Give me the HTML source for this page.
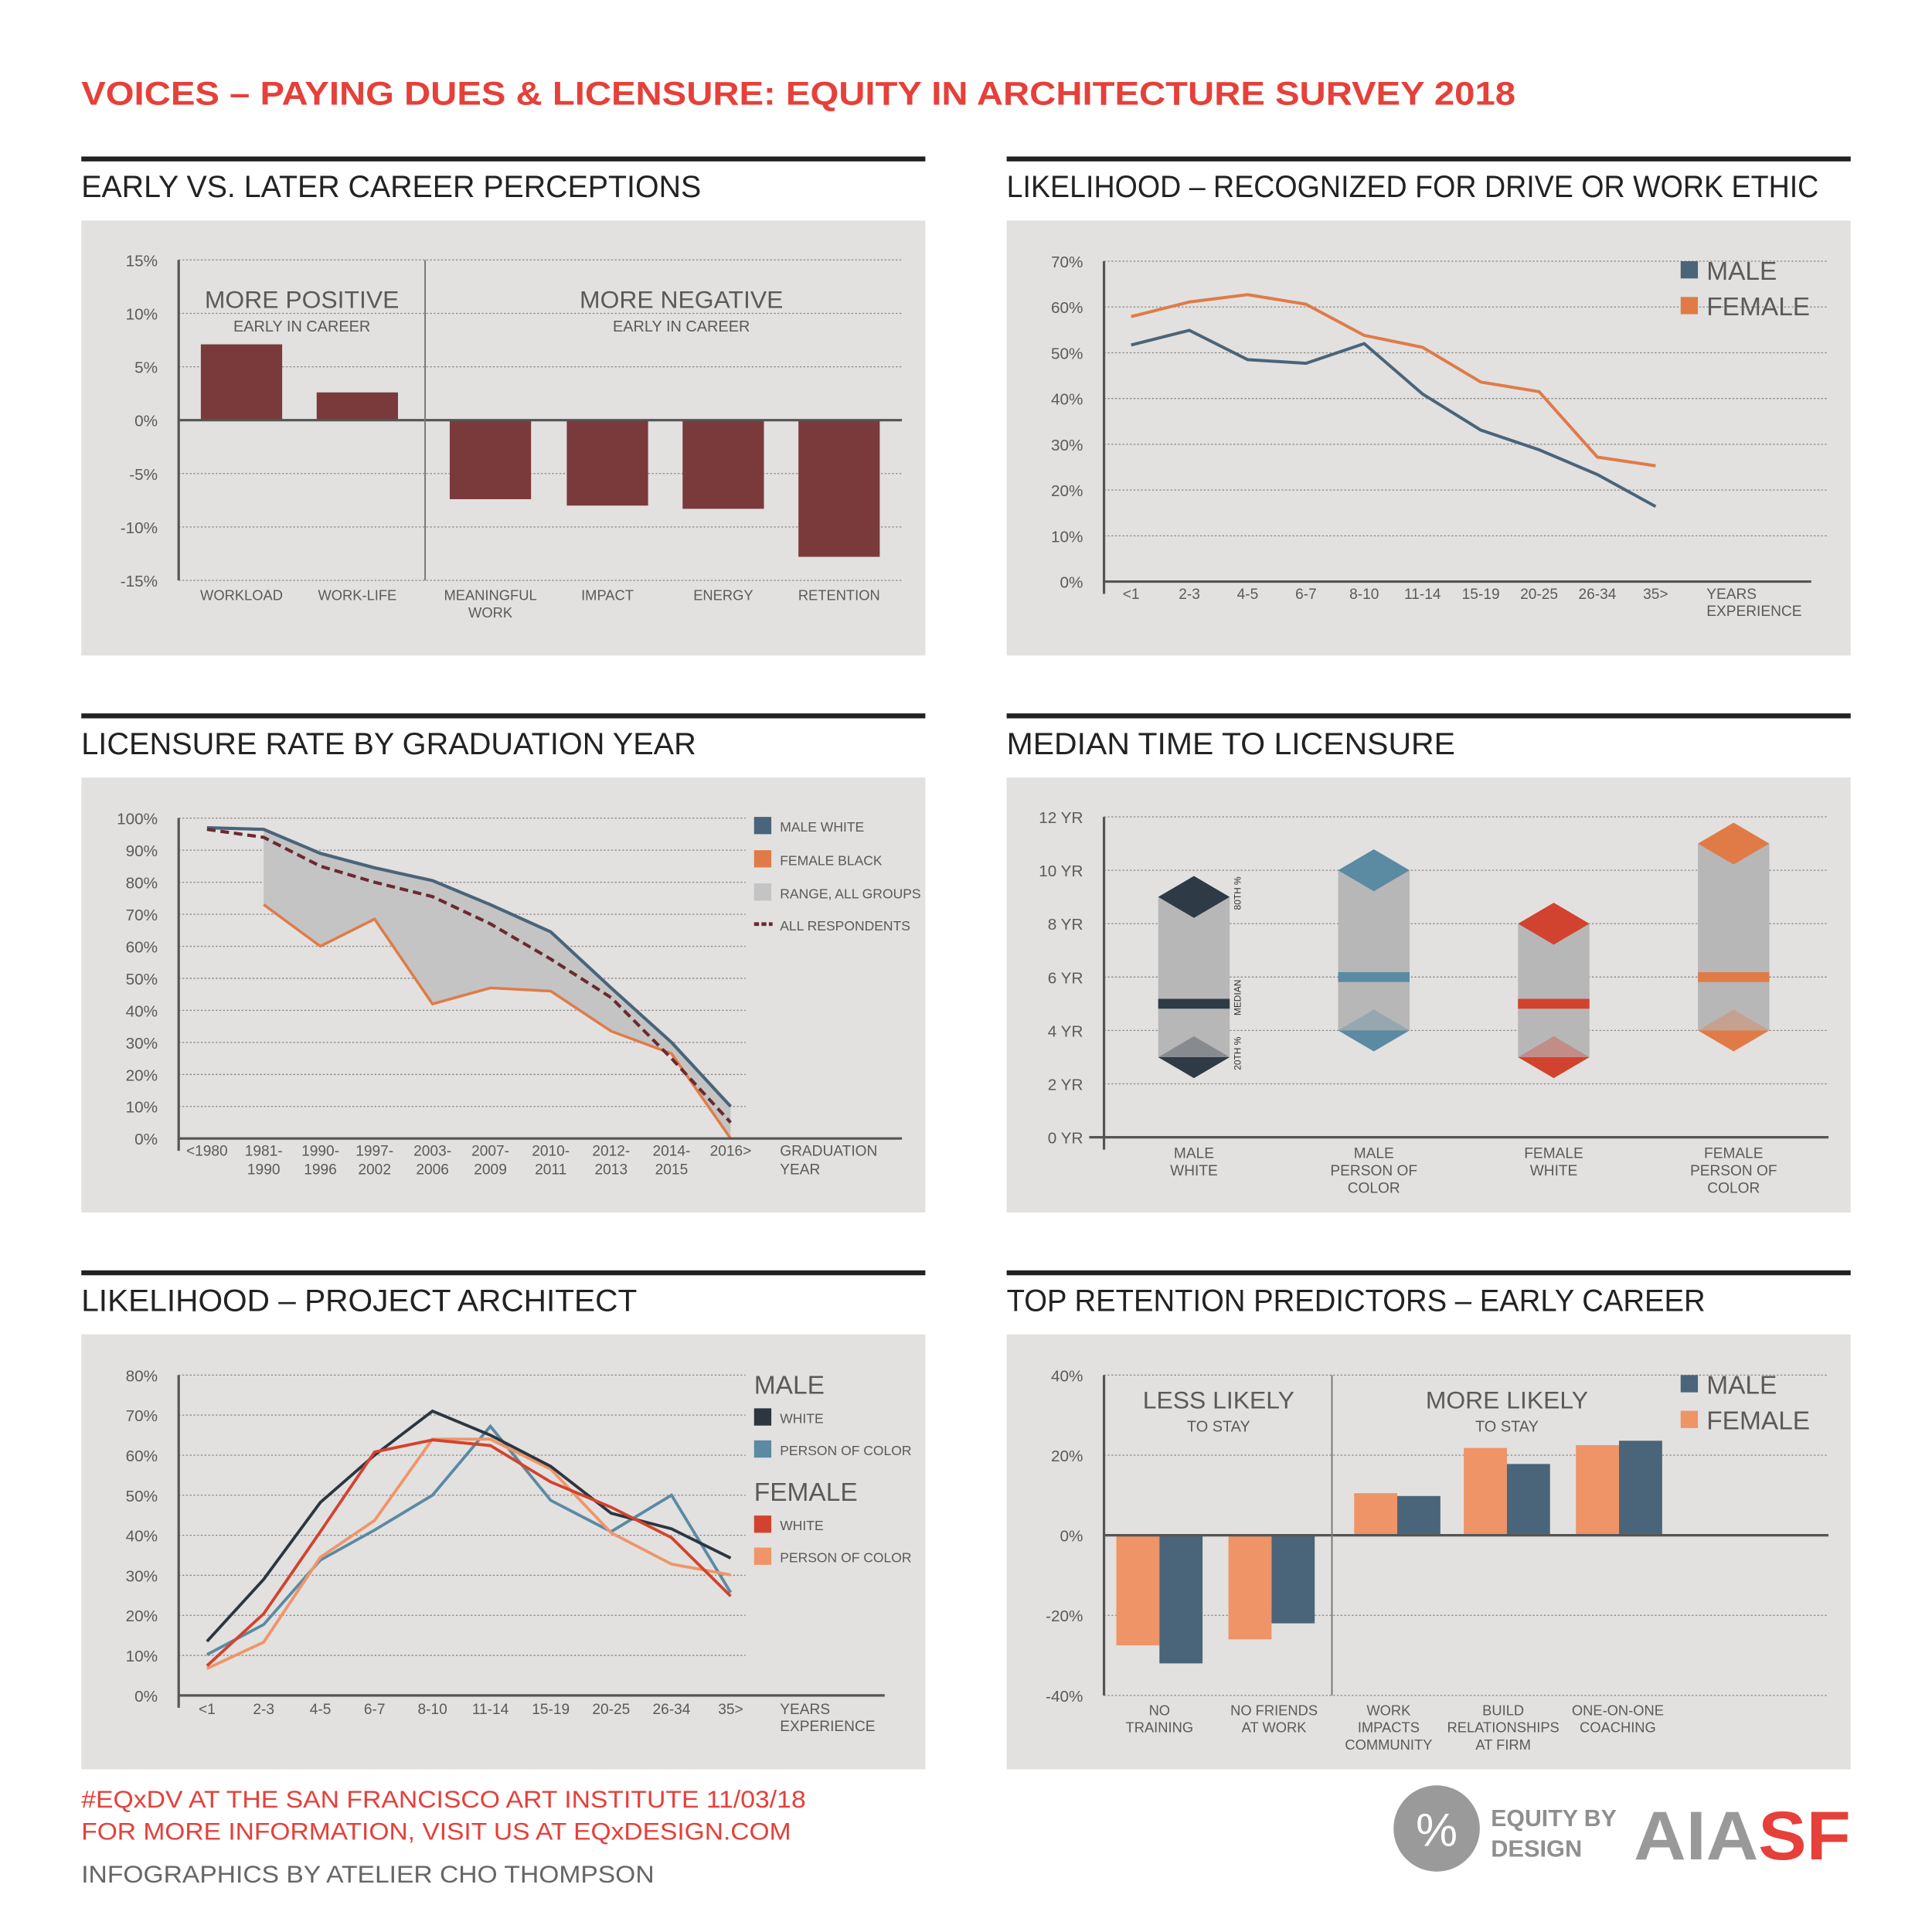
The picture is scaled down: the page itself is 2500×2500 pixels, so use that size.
<!DOCTYPE html>
<html><head><meta charset="utf-8"><style>
html,body{margin:0;padding:0;background:#fff}
svg{display:block}
text{font-family:"Liberation Sans",sans-serif}
</style></head><body>
<svg id="s" width="2500" height="2500" viewBox="0 0 1568 1568" xmlns="http://www.w3.org/2000/svg">
<rect width="1568" height="1568" fill="#fff"/>
<text x="66" y="85" font-size="27" font-weight="bold" fill="#e5403a" textLength="1164" lengthAdjust="spacingAndGlyphs">VOICES – PAYING DUES &amp; LICENSURE: EQUITY IN ARCHITECTURE SURVEY 2018</text>
<g id="frames"></g>
<g id="c1"></g><g id="c2"></g><g id="c3"></g><g id="c4"></g><g id="c5"></g><g id="c6"></g>
<text x="66" y="1467" font-size="20" fill="#e5403a" textLength="588" lengthAdjust="spacingAndGlyphs">#EQxDV AT THE SAN FRANCISCO ART INSTITUTE 11/03/18</text>
<text x="66" y="1493" font-size="20" fill="#e5403a" textLength="576" lengthAdjust="spacingAndGlyphs">FOR MORE INFORMATION, VISIT US AT EQxDESIGN.COM</text>
<text x="66" y="1528" font-size="20" fill="#666" textLength="465" lengthAdjust="spacingAndGlyphs">INFOGRAPHICS BY ATELIER CHO THOMPSON</text>
<g>
<circle cx="1166" cy="1484" r="35" fill="#9a9a9a"/>
<text x="1166" y="1498" font-size="38" fill="#fff" text-anchor="middle">%</text>
<text x="1210" y="1482" font-size="19" font-weight="bold" fill="#8f8f8f" textLength="102" lengthAdjust="spacingAndGlyphs">EQUITY BY</text>
<text x="1210" y="1507" font-size="19" font-weight="bold" fill="#8f8f8f" textLength="74" lengthAdjust="spacingAndGlyphs">DESIGN</text>
</g>
<text x="1326" y="1509" font-size="56" font-weight="bold" textLength="176" lengthAdjust="spacingAndGlyphs"><tspan fill="#999">AIA</tspan><tspan fill="#e5403a">SF</tspan></text>
</svg>
<script>
const NS="http://www.w3.org/2000/svg";
function mk(parent,tag,attrs,txt){const e=document.createElementNS(NS,tag);for(const k in attrs)e.setAttribute(k,attrs[k]);if(txt!==undefined)e.textContent=txt;parent.appendChild(e);return e;}
const G=id=>document.getElementById(id);
const AX="#555", LBL="#5a5a5a";

// ---- frames ----
const frameTitles=["EARLY VS. LATER CAREER PERCEPTIONS","LIKELIHOOD – RECOGNIZED FOR DRIVE OR WORK ETHIC","LICENSURE RATE BY GRADUATION YEAR","MEDIAN TIME TO LICENSURE","LIKELIHOOD – PROJECT ARCHITECT","TOP RETENTION PREDICTORS – EARLY CAREER"];
const frameLens=[503,659,499,364,451,567];
const fr=G("frames");
for(let i=0;i<6;i++){
  const x=i%2?817:66, y=129+Math.floor(i/2)*452;
  let r=mk(fr,"rect",{x:x,y:y-2,width:685,height:4,fill:"#222"});
  
  
  let t=mk(fr,"text",{x:x,y:y+31,"font-size":25,fill:"#222",textLength:frameLens[i],lengthAdjust:"spacingAndGlyphs"},frameTitles[i]);
  
  
  let p=mk(fr,"rect",{x:x,y:y+50,width:685,height:353,fill:"#e2e1df"});
  
  
}
function grid(g,x1,x2,y){mk(g,"line",{x1:x1,x2:x2,y1:y,y2:y,stroke:"#888","stroke-width":0.8,"stroke-dasharray":"1.5 1.5"});}
function txt(g,x,y,s,size,anchor,name,fill){const t=mk(g,"text",{x:x,y:y,"font-size":size||12,fill:fill||LBL,"text-anchor":anchor||"middle"},s);return t;}
</script>

<script>
// ---- Chart 1: early vs later career ----
const c1Cats=["WORKLOAD","WORK-LIFE","MEANINGFUL|WORK","IMPACT","ENERGY","RETENTION"];
const c1Vals=[7.1,2.6,-7.4,-8.0,-8.3,-12.8];
const c1Ticks=[15,10,5,0,-5,-10,-15];
(function(){
  const g=G("c1");const y=v=>341-v*8.667;const X0=145,X1=732;
  const cx=[196,290,398,493,587,681];
  c1Ticks.forEach(t=>{if(t!==0)grid(g,X0,X1,y(t));txt(g,128,y(t)+5,t+"%",13,"end","y-tick");});
  c1Vals.forEach((v,i)=>{const b=mk(g,"rect",{x:cx[i]-33,y:Math.min(y(v),y(0)),width:66,height:Math.abs(y(v)-y(0)),fill:"#7a3a3c"});
    
    
    c1Cats[i].split("|").forEach((s,j)=>txt(g,cx[i],487+j*14,s,11.5,"middle","x-tick"));});
  mk(g,"line",{x1:X0,x2:X1,y1:y(0),y2:y(0),stroke:"#555","stroke-width":2});
  mk(g,"line",{x1:X0,x2:X0,y1:211,y2:471,stroke:AX,"stroke-width":2});
  mk(g,"line",{x1:345,x2:345,y1:211,y2:471,stroke:"#777","stroke-width":1.2});
  txt(g,245,250,"MORE POSITIVE",20,"middle","positive-header");
  txt(g,245,269,"EARLY IN CAREER",12.5,"middle","positive-subheader");
  txt(g,553,250,"MORE NEGATIVE",20,"middle","negative-header");
  txt(g,553,269,"EARLY IN CAREER",12.5,"middle","negative-subheader");
})();
</script>

<script>
// ---- Chart 2: recognized for drive ----
const c2Cats=["<1","2-3","4-5","6-7","8-10","11-14","15-19","20-25","26-34","35>"];
const c2Male=[51.7,54.9,48.5,47.7,52,41,33.1,28.8,23.4,16.4];
const c2Female=[57.9,61.1,62.7,60.6,53.8,51.2,43.6,41.5,27.2,25.3];
const c2Ticks=[0,10,20,30,40,50,60,70];
(function(){
  const g=G("c2");const y=v=>472-v*3.714;const x=i=>918+i*47.3;
  c2Ticks.forEach(t=>{if(t)grid(g,896,1484,y(t));txt(g,879,y(t)+5,t+"%",13,"end","y-tick");});
  c2Cats.forEach((c,i)=>txt(g,x(i),486,c,12,"middle","x-tick"));
  txt(g,1385,486,"YEARS",12,"start","x-axis-title");txt(g,1385,500,"EXPERIENCE",12,"start","x-axis-title");
  [[c2Male,"#4a6479","line-male"],[c2Female,"#e07b47","line-female"]].forEach(([d,c,n])=>{
    const l=mk(g,"polyline",{points:d.map((v,i)=>x(i)+","+y(v)).join(" "),fill:"none",stroke:c,"stroke-width":2.5});
    
    });
  mk(g,"line",{x1:896,x2:1470,y1:472,y2:472,stroke:"#555","stroke-width":2});
  mk(g,"line",{x1:896,x2:896,y1:212,y2:482,stroke:AX,"stroke-width":2});
  mk(g,"rect",{x:1364,y:212,width:14,height:14,fill:"#4a6479"});
  txt(g,1385,227,"MALE",21,"start","legend-male");
  mk(g,"rect",{x:1364,y:241,width:14,height:14,fill:"#e07b47"});
  txt(g,1385,256,"FEMALE",21,"start","legend-female");
})();
</script>

<script>
// ---- Chart 3: licensure rate by graduation year ----
const c3Cats=["<1980|","1981-|1990","1990-|1996","1997-|2002","2003-|2006","2007-|2009","2010-|2011","2012-|2013","2014-|2015","2016>|"];
const c3MaleWhite=[97,96.5,89,84.5,80.5,73,64.5,47,30,10];
const c3FemaleBlack=[null,73,60,68.5,42,47,46,33.5,26.5,0];
const c3All=[96.5,94,85,80,75.5,67,56,44,25,5];
const c3Ticks=[0,10,20,30,40,50,60,70,80,90,100];
(function(){
  const g=G("c3");const y=v=>924-v*2.6;const xs=[168,214,260,304,351,398,447,496,545,593];const x=i=>xs[i];
  c3Ticks.forEach(t=>{if(t)grid(g,145,605,y(t));txt(g,128,y(t)+5,t+"%",13,"end","y-tick");});
  c3Cats.forEach((c,i)=>c.split("|").forEach((s,j)=>txt(g,x(i),938+j*15,s,12,"middle","x-tick")));
  txt(g,633,938,"GRADUATION",12,"start","x-axis-title");txt(g,633,953,"YEAR",12,"start","x-axis-title");
  let pts=[];for(let i=1;i<10;i++)pts.push(x(i)+","+y(c3MaleWhite[i]));
  for(let i=9;i>=1;i--)pts.push(x(i)+","+y(c3FemaleBlack[i]));
  const r=mk(g,"polygon",{points:pts.join(" "),fill:"#c4c4c4"});
  
  
  const fb=mk(g,"polyline",{points:c3FemaleBlack.map((v,i)=>v===null?"":x(i)+","+y(v)).join(" ").trim(),fill:"none",stroke:"#e07b47","stroke-width":2.2});
  
  
  const mw=mk(g,"polyline",{points:c3MaleWhite.map((v,i)=>x(i)+","+y(v)).join(" "),fill:"none",stroke:"#4a6479","stroke-width":2.6});
  
  
  const al=mk(g,"polyline",{points:c3All.map((v,i)=>x(i)+","+y(v)).join(" "),fill:"none",stroke:"#6b2a30","stroke-width":2.6,"stroke-dasharray":"7 4"});
  
  
  mk(g,"line",{x1:145,x2:732,y1:924,y2:924,stroke:"#555","stroke-width":2});
  mk(g,"line",{x1:145,x2:145,y1:664,y2:934,stroke:AX,"stroke-width":2});
  const leg=[["#4a6479","MALE WHITE"],["#e07b47","FEMALE BLACK"],["#c4c4c4","RANGE, ALL GROUPS"]];
  leg.forEach(([c,s],i)=>{mk(g,"rect",{x:612,y:663+i*27,width:14,height:14,fill:c});txt(g,633,675+i*27,s,11,"start","legend-entry");});
  mk(g,"line",{x1:612,x2:627,y1:750,y2:750,stroke:"#6b2a30","stroke-width":3,"stroke-dasharray":"4 2"});
  txt(g,633,755,"ALL RESPONDENTS",11,"start","legend-entry");
})();
</script>

<script>
// ---- Chart 4: median time to licensure ----
const c4Cats=["MALE|WHITE","MALE|PERSON OF|COLOR","FEMALE|WHITE","FEMALE|PERSON OF|COLOR"];
const c4P20=[3,4,3,4];
const c4Median=[5,6,5,6];
const c4P80=[9,10,8,11];
const c4Colors=["#2e3a45","#5b8aa3","#d2432f","#e07b47"];
const c4Ticks=[0,2,4,6,8,10,12];
(function(){
  const g=G("c4");const y=v=>923-v*21.67;const xs=[969,1115,1261,1407];
  c4Ticks.forEach(t=>{if(t)grid(g,896,1484,y(t));txt(g,879,y(t)+5,t+" YR",13,"end","y-tick");});
  c4Cats.forEach((c,i)=>{const cx=xs[i],c0=c4Colors[i];
    c.split("|").forEach((s,j)=>txt(g,cx,940+j*14,s,12,"middle","x-tick"));
    const b=mk(g,"rect",{x:cx-29,y:y(c4P80[i]),width:58,height:y(c4P20[i])-y(c4P80[i]),fill:"#b7b7b7"});
    
    
    const d8=mk(g,"polygon",{points:`${cx},${y(c4P80[i])-17} ${cx+29},${y(c4P80[i])} ${cx},${y(c4P80[i])+17} ${cx-29},${y(c4P80[i])}`,fill:c0});
    
    
    const y2=y(c4P20[i]);
    mk(g,"polygon",{points:`${cx},${y2-17} ${cx+29},${y2} ${cx-29},${y2}`,fill:c0,opacity:0.35});
    const d2=mk(g,"polygon",{points:`${cx-29},${y2} ${cx+29},${y2} ${cx},${y2+17}`,fill:c0});
    
    
    const m=mk(g,"rect",{x:cx-29,y:y(c4Median[i])-4,width:58,height:8,fill:c0});
    
    
  });
  [["80TH %",9],["MEDIAN",5],["20TH %",3]].forEach(([s,v])=>{const t=txt(g,0,0,s,7.5,"middle","annotation","#333");t.setAttribute("transform",`translate(1007,${y(v)+ (v===9?-3:v===3?-3:-5)}) rotate(-90)`);});
  mk(g,"line",{x1:884,x2:1484,y1:923,y2:923,stroke:"#555","stroke-width":2});
  mk(g,"line",{x1:896,x2:896,y1:663,y2:933,stroke:AX,"stroke-width":2});
})();
</script>

<script>
// ---- Chart 5: project architect ----
const c5Cats=["<1","2-3","4-5","6-7","8-10","11-14","15-19","20-25","26-34","35>"];
const c5MaleWhite=[13.5,29,48.2,60,71,65,57.2,45.5,41.6,34.3];
const c5MalePOC=[10.2,17.7,33.8,41.3,50,67.2,48.7,40.9,50,25.7];
const c5FemaleWhite=[7.4,20.4,40.9,60.8,63.8,62.4,53.3,47,39.4,24.8];
const c5FemalePOC=[6.7,13.3,34.5,43.7,64,64,56.5,40.6,32.8,30.1];
const c5Ticks=[0,10,20,30,40,50,60,70,80];
(function(){
  const g=G("c5");const y=v=>1376-v*3.25;const xs=[168,214,260,304,351,398,447,496,545,593];const x=i=>xs[i];
  c5Ticks.forEach(t=>{if(t)grid(g,145,605,y(t));txt(g,128,y(t)+5,t+"%",13,"end","y-tick");});
  c5Cats.forEach((c,i)=>txt(g,x(i),1391,c,12,"middle","x-tick"));
  txt(g,633,1391,"YEARS",12,"start","x-axis-title");txt(g,633,1405,"EXPERIENCE",12,"start","x-axis-title");
  [[c5MalePOC,"#5b8aa3","line-male-poc"],[c5FemalePOC,"#f0956a","line-female-poc"],[c5MaleWhite,"#2c3640","line-male-white"],[c5FemaleWhite,"#d2432f","line-female-white"]].forEach(([d,c,n])=>{
    const l=mk(g,"polyline",{points:d.map((v,i)=>x(i)+","+y(v)).join(" "),fill:"none",stroke:c,"stroke-width":2.4});
    
    });
  mk(g,"line",{x1:145,x2:718,y1:1376,y2:1376,stroke:"#555","stroke-width":2});
  mk(g,"line",{x1:145,x2:145,y1:1116,y2:1386,stroke:AX,"stroke-width":2});
  txt(g,612,1131,"MALE",21,"start","legend-male-header");
  mk(g,"rect",{x:612,y:1143,width:14,height:14,fill:"#2c3640"});txt(g,633,1155,"WHITE",11,"start","legend-entry");
  mk(g,"rect",{x:612,y:1169,width:14,height:14,fill:"#5b8aa3"});txt(g,633,1181,"PERSON OF COLOR",11,"start","legend-entry");
  txt(g,612,1218,"FEMALE",21,"start","legend-female-header");
  mk(g,"rect",{x:612,y:1230,width:14,height:14,fill:"#d2432f"});txt(g,633,1242,"WHITE",11,"start","legend-entry");
  mk(g,"rect",{x:612,y:1256,width:14,height:14,fill:"#f0956a"});txt(g,633,1268,"PERSON OF COLOR",11,"start","legend-entry");
})();
</script>

<script>
// ---- Chart 6: top retention predictors ----
const c6Cats=["NO|TRAINING","NO FRIENDS|AT WORK","WORK|IMPACTS|COMMUNITY","BUILD|RELATIONSHIPS|AT FIRM","ONE-ON-ONE|COACHING"];
const c6Female=[-27.5,-26,10.5,21.8,22.5];
const c6Male=[-32,-22,9.8,17.8,23.6];
const c6Ticks=[40,20,0,-20,-40];
(function(){
  const g=G("c6");const y=v=>1246-v*3.25;const xs=[941,1032,1134,1223,1314];const lx=[941,1034,1127,1220,1313];
  c6Ticks.forEach(t=>{if(t)grid(g,896,1484,y(t));txt(g,879,y(t)+5,t+"%",13,"end","y-tick");});
  c6Cats.forEach((c,i)=>{c.split("|").forEach((s,j)=>txt(g,lx[i],1392+j*14,s,11.5,"middle","x-tick"));
    const f=mk(g,"rect",{x:xs[i]-35,y:Math.min(y(0),y(c6Female[i])),width:35,height:Math.abs(y(c6Female[i])-y(0)),fill:"#ee9467"});
    
    
    const m=mk(g,"rect",{x:xs[i],y:Math.min(y(0),y(c6Male[i])),width:35,height:Math.abs(y(c6Male[i])-y(0)),fill:"#4a6479"});
    
    });
  mk(g,"line",{x1:896,x2:1484,y1:1246,y2:1246,stroke:"#555","stroke-width":2});
  mk(g,"line",{x1:896,x2:896,y1:1116,y2:1376,stroke:AX,"stroke-width":2});
  mk(g,"line",{x1:1081,x2:1081,y1:1116,y2:1376,stroke:"#777","stroke-width":1.2});
  txt(g,989,1143,"LESS LIKELY",20,"middle","less-likely-header");txt(g,989,1162,"TO STAY",12.5,"middle","less-likely-sub");
  txt(g,1223,1143,"MORE LIKELY",20,"middle","more-likely-header");txt(g,1223,1162,"TO STAY",12.5,"middle","more-likely-sub");
  mk(g,"rect",{x:1364,y:1116,width:14,height:14,fill:"#4a6479"});txt(g,1385,1131,"MALE",21,"start","legend-male");
  mk(g,"rect",{x:1364,y:1145,width:14,height:14,fill:"#ee9467"});txt(g,1385,1160,"FEMALE",21,"start","legend-female");
})();
</script>
</body></html>
